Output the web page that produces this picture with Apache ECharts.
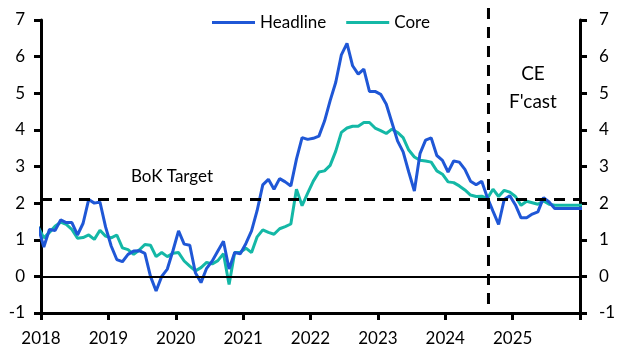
<!DOCTYPE html>
<html><head><meta charset="utf-8">
<script src="https://cdn.jsdelivr.net/npm/echarts@6/dist/echarts.min.js"></script>
<style>html,body{margin:0;padding:0;background:#fff}#c{width:632px;height:357px}</style>
</head><body><div id="c"></div>
<script>
// Monthly observations, Dec 2017 .. Jan 2026
const startYear = 2017, startMonth = 12;
const months = [];
for (let i = 0; i < 98; i++) {
  const mm = (startMonth - 1 + i) % 12 + 1;
  const yy = startYear + Math.floor((startMonth - 1 + i) / 12);
  months.push(yy + '-' + String(mm).padStart(2, '0'));
}
const headline = [
  1.35,
  0.8, 1.28, 1.25, 1.54, 1.47, 1.47, 1.13, 1.45, 2.1, 2.0, 2.03, 1.35,
  0.83, 0.46, 0.4, 0.6, 0.69, 0.7, 0.63, 0.0, -0.4, 0.0, 0.2, 0.7,
  1.24, 0.88, 0.85, 0.1, -0.17, 0.22, 0.42, 0.69, 0.96, 0.2, 0.65, 0.62,
  0.9, 1.24, 1.8, 2.5, 2.65, 2.38, 2.67, 2.58, 2.47, 3.2, 3.79, 3.74,
  3.77, 3.83, 4.24, 4.8, 5.3, 6.05, 6.36, 5.75, 5.52, 5.66, 5.05, 5.05,
  4.97, 4.7, 4.2, 3.7, 3.4, 2.85, 2.33, 3.35, 3.72, 3.78, 3.3, 3.17,
  2.85, 3.15, 3.12, 2.92, 2.6, 2.5, 2.6, 2.15, 1.78, 1.42, 2.1, 2.2,
  1.95, 1.6, 1.6, 1.7, 1.76, 2.15, 2.03, 1.85, 1.85, 1.85, 1.85, 1.85,
  1.85
];
const core = [
  1.35,
  1.05, 1.2, 1.37, 1.48, 1.42, 1.28, 1.04, 1.06, 1.13, 1.01, 1.26, 1.1,
  1.05, 1.13, 0.78, 0.73, 0.6, 0.72, 0.87, 0.85, 0.54, 0.65, 0.54, 0.63,
  0.65, 0.42, 0.28, 0.15, 0.24, 0.38, 0.34, 0.43, 0.62, -0.22, 0.65, 0.66,
  0.77, 0.65, 1.08, 1.27, 1.2, 1.15, 1.3, 1.36, 1.43, 2.38, 1.93, 2.27,
  2.6, 2.85, 2.88, 3.03, 3.42, 3.93, 4.05, 4.1, 4.1, 4.2, 4.2, 4.05,
  3.98, 3.9, 4.02, 3.93, 3.79, 3.45, 3.26, 3.17, 3.15, 3.12, 2.88, 2.79,
  2.58, 2.56, 2.47, 2.36, 2.22, 2.18, 2.19, 2.13, 2.38, 2.18, 2.35, 2.3,
  2.18, 1.94, 2.05, 2.01, 1.97, 2.06, 1.97, 1.94, 1.94, 1.94, 1.94, 1.94,
  1.94
];
const yearLabels = ['2018','2019','2020','2021','2022','2023','2024','2025'];
const targetLevel = 2.1;
const forecastStart = 79.7; // months after Jan 2018

function monthPos(s) {
  const [y, m] = s.split('-').map(Number);
  return (y - 2018) * 12 + (m - 1) + 0.5;
}
const hData = months.map((m, i) => [monthPos(m), headline[i]]);
const cData = months.map((m, i) => [monthPos(m), core[i]]);

const FONT = 'Lato';
const chart = echarts.init(document.getElementById('c'));
const yAxisCommon = {
  type: 'value', min: -1, max: 7, interval: 1,
  splitLine: { show: false },
  axisLine: { show: true, lineStyle: { color: '#000', width: 3 } },
  axisTick: { show: true, length: 7, lineStyle: { color: '#000', width: 3 } },
  axisLabel: { color: '#000', fontSize: 17, fontFamily: FONT }
};
chart.setOption({
  animation: false,
  grid: { left: 41, right: 52, top: 20, bottom: 44 },
  legend: {
    top: 9, left: 207, itemWidth: 43, itemHeight: 3, itemGap: 20,
    icon: 'rect',
    textStyle: { color: '#000', fontSize: 17, fontFamily: FONT },
    data: ['Headline', 'Core']
  },
  xAxis: {
    type: 'value', min: 0, max: 96, interval: 12,
    splitLine: { show: false },
    axisLine: { onZero: false, lineStyle: { color: '#000', width: 3 } },
    axisTick: { show: true, length: 7, lineStyle: { color: '#000', width: 3 } },
    axisLabel: {
      color: '#000', fontSize: 17, fontFamily: FONT, margin: 17,
      formatter: v => yearLabels[v / 12] || ''
    }
  },
  yAxis: [
    Object.assign({}, yAxisCommon, { position: 'left', axisLabel: Object.assign({}, yAxisCommon.axisLabel, { margin: 16 }) }),
    Object.assign({}, yAxisCommon, { position: 'right', axisLabel: Object.assign({}, yAxisCommon.axisLabel, { margin: 19 }) })
  ],
  series: [
    {
      name: 'Headline', type: 'line', data: hData, symbol: 'none', clip: true,
      lineStyle: { color: '#1f57d6', width: 3 }, itemStyle: { color: '#1f57d6' },
      z: 3,
      markLine: {
        silent: true, symbol: 'none', label: { show: false },
        data: [
          { yAxis: 0, lineStyle: { color: '#000', width: 2, type: 'solid' } },
          { yAxis: targetLevel, lineStyle: { color: '#000', width: 3, type: [11, 8] } }
        ]
      }
    },
    {
      name: 'Core', type: 'line', data: cData, symbol: 'none', clip: true,
      lineStyle: { color: '#14b8a6', width: 3 }, itemStyle: { color: '#14b8a6' },
      z: 2
    }
  ]
});
const vx = chart.convertToPixel({ xAxisIndex: 0 }, forecastStart);
const ty = chart.convertToPixel({ yAxisIndex: 0 }, 2.72);
chart.setOption({
  graphic: [
    { type: 'line', shape: { x1: vx, y1: 8, x2: vx, y2: 313 },
      style: { stroke: '#000', lineWidth: 3, lineDash: [11, 8] }, z: 10 },
    { type: 'text', x: 172, y: ty, style: { text: 'BoK Target', fill: '#000', font: '17px ' + FONT, textAlign: 'center', textVerticalAlign: 'middle' } },
    { type: 'text', x: 533, y: 88, style: { text: "CE\nF'cast", fill: '#000', font: '19px ' + FONT, textAlign: 'center', textVerticalAlign: 'middle', lineHeight: 28 } }
  ]
});
</script>
</body></html>
